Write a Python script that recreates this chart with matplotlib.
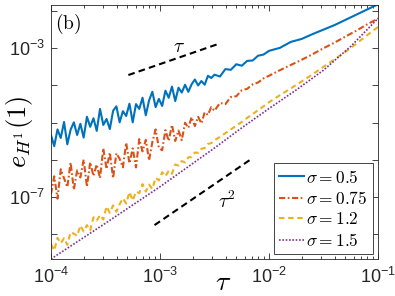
import numpy as np
import matplotlib as mpl
mpl.use('Agg')
import matplotlib.pyplot as plt
from matplotlib.ticker import FixedLocator, FixedFormatter, LogLocator, NullFormatter, NullLocator
from matplotlib.font_manager import FontProperties

mpl.rcParams['mathtext.fontset'] = 'custom'
mpl.rcParams['mathtext.rm'] = 'Liberation Sans'
mpl.rcParams['mathtext.it'] = 'Liberation Sans:italic'
mpl.rcParams['font.family'] = 'Liberation Sans'
mpl.rcParams['axes.linewidth'] = 0.6

# log10(tau) grid and log10 of the error
logtau = [-4.00, -3.97, -3.94, -3.91, -3.88, -3.85, -3.82, -3.79, -3.76, -3.73,
          -3.70, -3.67, -3.64, -3.61, -3.58, -3.55, -3.52, -3.49, -3.46, -3.43,
          -3.40, -3.37, -3.34, -3.31, -3.28, -3.25, -3.22, -3.19, -3.16, -3.13,
          -3.10, -3.07, -3.04, -3.01, -2.98, -2.95, -2.92, -2.89, -2.86, -2.83,
          -2.80, -2.77, -2.74, -2.71, -2.68, -2.65, -2.62, -2.59, -2.56, -2.53,
          -2.50,
          -2.45, -2.40, -2.35, -2.30, -2.25, -2.20, -2.15, -2.10, -2.05, -2.00,
          -1.9, -1.8, -1.7, -1.6, -1.5, -1.4, -1.3, -1.2, -1.1, -1.0]

err_s05 = [-5.33, -5.63, -5.18, -5.41, -4.98, -5.58, -5.19, -4.99, -5.33, -5.03,
           -5.40, -4.84, -5.11, -4.88, -5.22, -4.63, -5.06, -4.90, -5.17, -4.68,
           -4.56, -4.99, -4.69, -4.82, -4.49, -4.99, -4.50, -4.63, -4.33, -4.80,
           -4.40, -4.17, -4.58, -4.36, -4.55, -4.14, -4.33, -4.03, -4.42, -4.06,
           -4.19, -3.98, -4.17, -3.97, -3.84, -4.00, -3.88, -3.98, -3.74, -3.80,
           -3.71,
           -3.76, -3.56, -3.58, -3.43, -3.47, -3.34, -3.33, -3.20, -3.17, -3.07,
           -2.99, -2.83, -2.75, -2.62, -2.50, -2.38, -2.24, -2.10, -1.96, -1.82]

err_s075 = [-6.92, -6.44, -7.04, -6.25, -6.49, -6.73, -6.07, -6.80, -6.28, -6.47,
            -5.99, -6.72, -6.06, -6.43, -6.12, -6.49, -5.69, -6.24, -5.80, -6.49,
            -5.82, -5.97, -6.20, -5.54, -6.09, -5.69, -6.20, -5.44, -5.77, -5.46,
            -6.01, -5.52, -5.18, -5.68, -5.74, -5.20, -5.49, -5.06, -5.49, -5.21,
            -5.47, -5.00, -5.14, -4.85, -5.09, -4.84, -5.02, -4.72, -4.79, -4.58,
            -4.68,
            -4.47, -4.50, -4.31, -4.29, -4.13, -4.09, -3.97, -3.92, -3.81, -3.74,
            -3.59, -3.45, -3.31, -3.16, -3.00, -2.85, -2.69, -2.53, -2.36, -2.20]

err_s12 = [-8.26, -8.43, -8.09, -8.24, -8.10, -8.28, -7.94, -7.98, -8.04, -7.76,
           -7.92, -7.75, -7.89, -7.54, -7.63, -7.48, -7.60, -7.25, -7.42, -7.22,
           -7.39, -7.19, -7.03, -7.17, -6.86, -7.09, -6.85, -6.89, -6.65, -6.85,
           -6.66, -6.78, -6.48, -6.55, -6.33, -6.44, -6.29, -6.37, -6.12, -6.15,
           -6.03, -6.07, -5.93, -5.92, -5.80, -5.81, -5.70, -5.68, -5.57, -5.55,
           -5.47,
           -5.38, -5.28, -5.18, -5.08, -4.98, -4.87, -4.77, -4.66, -4.56, -4.45,
           -4.26, -4.08, -3.89, -3.70, -3.50, -3.30, -3.10, -2.88, -2.65, -2.43]

logtau_s15 = [-4.0, -3.75, -3.5, -3.25, -3.0, -2.75, -2.5, -2.27, -2.0, -1.75, -1.5, -1.25, -1.0]
err_s15 = [-8.66, -8.18, -7.70, -7.21, -6.72, -6.20, -5.68, -5.18, -4.62, -4.12, -3.59, -2.95, -2.20]

# reference slopes
ref1_x = [-3.29, -2.45]
ref1_y = [-3.72, -2.87]
ref2_x = [-3.05, -2.15]
ref2_y = [-7.75, -5.95]

labels = ['$\\sigma = 0.5$', '$\\sigma = 0.75$', '$\\sigma = 1.2$', '$\\sigma = 1.5$']
colors = ['#0072BD', '#D95319', '#EDB120', '#7E2F8E']

p = lambda v: 10.0 ** np.array(v)

fig = plt.figure(figsize=(3.95, 2.96), dpi=100)
ax = fig.add_axes([0.129, 0.125, 0.828, 0.858])

ax.plot(p(logtau), p(err_s05), '-', color=colors[0], lw=1.5, label=labels[0])
ax.plot(p(logtau), p(err_s075), color=colors[1], lw=1.5, dashes=(3, 1.2, 0.8, 1.2), label=labels[1])
ax.plot(p(logtau), p(err_s12), color=colors[2], lw=1.5, dashes=(2.6, 1.8), label=labels[2])
ax.plot(p(logtau_s15), p(err_s15), color=colors[3], lw=1.2, dashes=(1, 1), label=labels[3])

ax.plot(p(ref1_x), p(ref1_y), 'k', lw=1.5, dashes=(3.2, 2.0))
ax.plot(p(ref2_x), p(ref2_y), 'k', lw=1.5, dashes=(3.2, 2.0))

ax.set_xscale('log')
ax.set_yscale('log')
ax.set_xlim(1e-4, 1e-1)
ax.set_ylim(10 ** -8.66, 10 ** -1.84)

ax.xaxis.set_major_locator(FixedLocator([1e-4, 1e-3, 1e-2, 1e-1]))
ax.xaxis.set_major_formatter(FixedFormatter(['$\\mathdefault{10^{-4}}$', '$\\mathdefault{10^{-3}}$',
                                             '$\\mathdefault{10^{-2}}$', '$\\mathdefault{10^{-1}}$']))
ax.xaxis.set_minor_locator(LogLocator(base=10, subs=np.arange(2, 10), numticks=20))
ax.xaxis.set_minor_formatter(NullFormatter())
ydec = [1e-8, 1e-7, 1e-6, 1e-5, 1e-4, 1e-3, 1e-2]
ax.yaxis.set_major_locator(FixedLocator(ydec))
ax.yaxis.set_major_formatter(FixedFormatter(['', '$\\mathdefault{10^{-7}}$', '', '', '',
                                             '$\\mathdefault{10^{-3}}$', '']))
ax.yaxis.set_minor_locator(NullLocator())

ax.tick_params(which='both', direction='in', top=True, right=True, colors='0.15',
               labelsize=13, width=0.6)
ax.tick_params(which='major', length=4)
ax.tick_params(which='minor', length=2)
ax.tick_params(axis='x', pad=6)
ax.tick_params(axis='y', pad=4)
for s in ax.spines.values():
    s.set_color('0.15')

ax.set_xlabel('$\\tau$', fontsize=20, math_fontfamily='cm')
ax.xaxis.set_label_coords(0.525, -0.045)
ax.set_ylabel('$e_{H^1}(1)$', fontsize=19, math_fontfamily='cm')
ax.yaxis.set_label_coords(-0.05, 0.5)

ax.text(0.012, 0.975, '$\\mathrm{(b)}$', transform=ax.transAxes, ha='left', va='top',
        fontsize=14, math_fontfamily='cm')
ax.text(10 ** -2.83, 10 ** -2.97, '$\\tau$', fontsize=14, math_fontfamily='cm', ha='center', va='center')
ax.text(10 ** -2.39, 10 ** -7.12, '$\\tau^2$', fontsize=14, math_fontfamily='cm', ha='center', va='center')

leg = ax.legend(loc='lower right', prop=FontProperties(size=12.5, math_fontfamily='cm'),
                fancybox=False, framealpha=1, edgecolor='0.15', handlelength=1.4,
                handletextpad=0.15, labelspacing=0.25, borderpad=0.3, borderaxespad=0.3)
leg.get_frame().set_linewidth(0.6)

fig.savefig('out.png', dpi=100)
